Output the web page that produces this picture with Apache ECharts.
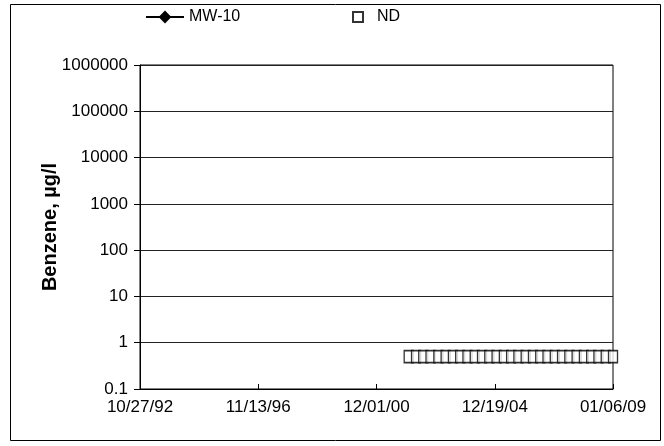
<!DOCTYPE html>
<html><head><meta charset="utf-8">
<script src="https://cdn.jsdelivr.net/npm/echarts@6/dist/echarts.min.js"></script>
<style>html,body{margin:0;padding:0;background:#fff}#c{width:664px;height:446px}</style>
</head><body><div id="c"></div>
<script>
// Axis range (dates) and tick step
const xStartDate = '1992-10-27';
const xEndDate = '2009-01-06';
const xTickCount = 4;
const yTicks = [0.1, 1, 10, 100, 1000, 10000, 100000, 1000000];

// MW-10 detected benzene values (none detected)
const mw10Dates = [];
const mw10Values = [];

// Non-detect sampling events, plotted at reporting level
const ndDates = [
 '2002-01-08','2002-04-10','2002-07-09','2002-10-08',
 '2003-01-14','2003-04-15','2003-07-15','2003-10-14',
 '2004-01-13','2004-04-13','2004-07-13','2004-10-12',
 '2005-01-11','2005-04-12','2005-07-12','2005-10-11',
 '2006-01-10','2006-04-11','2006-07-11','2006-10-10',
 '2007-01-09','2007-04-10','2007-07-10','2007-10-09',
 '2008-01-08','2008-04-08','2008-07-08','2008-10-07',
 '2009-01-06'
];
const ndValues = [
 0.5,0.5,0.5,0.5, 0.5,0.5,0.5,0.5, 0.5,0.5,0.5,0.5,
 0.5,0.5,0.5,0.5, 0.5,0.5,0.5,0.5, 0.5,0.5,0.5,0.5,
 0.5,0.5,0.5,0.5, 0.5
];

const DAY = 86400000;
const base = Date.parse(xStartDate + 'T00:00:00Z');
const toOff = d => (Date.parse(d + 'T00:00:00Z') - base) / DAY;
const xMax = toOff(xEndDate);
const pad = n => (n < 10 ? '0' : '') + n;
function fmtDate(v) {
  const d = new Date(base + Math.floor(v + 1e-6) * DAY);
  return pad(d.getUTCMonth() + 1) + '/' + pad(d.getUTCDate()) + '/' + pad(d.getUTCFullYear() % 100);
}

const chart = echarts.init(document.getElementById('c'), null, {renderer: 'canvas'});
const font = 'Liberation Sans, Arial, sans-serif';
const legendText = {fontFamily: font, fontSize: 16, color: '#000'};
chart.setOption({
  animation: false,
  backgroundColor: '#fff',
  textStyle: {fontFamily: font, color: '#000'},
  graphic: [{type: 'rect', shape: {x: 10.5, y: 4.5, width: 650, height: 436},
             style: {fill: 'none', stroke: '#000', lineWidth: 1}, silent: true}],
  legend: [
    {left: 140, top: 4, itemWidth: 38, itemHeight: 16, textStyle: legendText,
     data: [{name: 'MW-10'}]},
    {left: 347, top: 4, itemWidth: 10, itemHeight: 10, textStyle: legendText,
     formatter: n => '  ' + n,
     data: [{name: 'ND', icon: 'rect'}]}
  ],
  grid: {left: 140, right: 51, top: 65, bottom: 57, show: true, borderColor: '#000', borderWidth: 1},
  xAxis: {
    type: 'value', min: 0, max: xMax, interval: xMax / xTickCount,
    axisLine: {show: true, lineStyle: {color: '#000'}},
    axisTick: {show: true, inside: true, length: 5, lineStyle: {color: '#000'}},
    splitLine: {show: false},
    axisLabel: {formatter: fmtDate, fontSize: 17, color: '#000', margin: 10, fontFamily: font}
  },
  yAxis: {
    type: 'log', logBase: 10, min: yTicks[0], max: yTicks[yTicks.length - 1],
    name: 'Benzene, µg/l', nameLocation: 'middle', nameGap: 80, nameRotate: 90,
    nameMoveOverlap: false,
    nameTextStyle: {fontSize: 20, fontWeight: 'bold', color: '#000', fontFamily: font},
    axisLine: {show: true, lineStyle: {color: '#000'}},
    axisTick: {show: true, length: 6, lineStyle: {color: '#000'}},
    minorTick: {show: false},
    splitLine: {show: true, lineStyle: {color: '#222', width: 1}},
    axisLabel: {fontSize: 17, color: '#000', margin: 12, fontFamily: font,
      formatter: v => (v < 1 ? String(Math.round(v * 10) / 10) : String(Math.round(v)))}
  },
  series: [
    {name: 'MW-10', type: 'line', symbol: 'diamond', symbolSize: 12,
     itemStyle: {color: '#000'}, lineStyle: {color: '#000', width: 2},
     data: mw10Dates.map((d, i) => [toOff(d), mw10Values[i]])},
    {name: 'ND', type: 'scatter', symbol: 'rect', symbolSize: [9, 12],
     itemStyle: {color: '#fff', borderColor: '#000', borderWidth: 1.5},
     data: ndDates.map((d, i) => [toOff(d), ndValues[i]])}
  ]
});
</script></body></html>
